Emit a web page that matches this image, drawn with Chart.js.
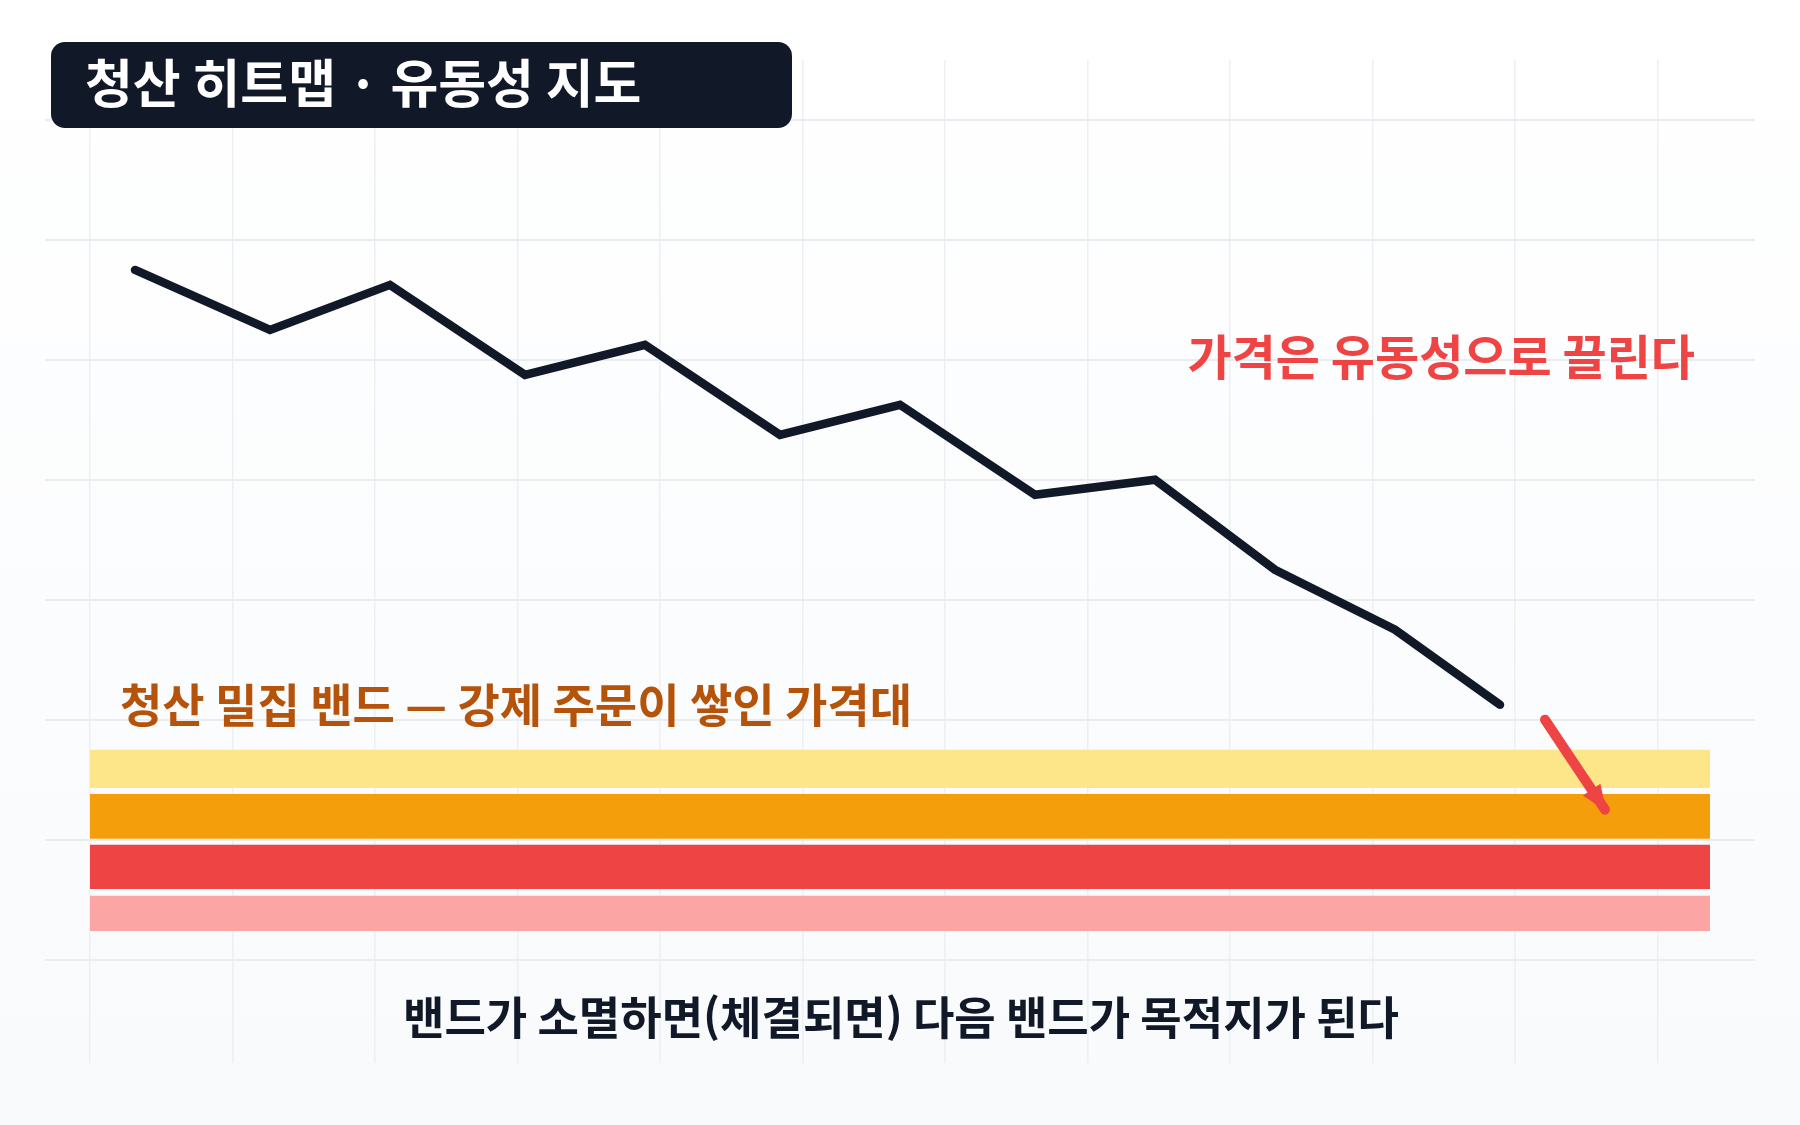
<!DOCTYPE html>
<html lang="ko">
<head>
<meta charset="UTF-8">
<title>청산 히트맵 · 유동성 지도</title>
<script src="https://cdn.jsdelivr.net/npm/chart.js@4.4.1/dist/chart.umd.min.js"></script>
<style>
    html, body { margin:0; padding:0; background:#fff; }
    #board { width:1800px; height:1125px; position:relative; }
</style>
</head>
<body>
<div id="board"><canvas id="chart1"></canvas></div>
<script>
    // 가격 경로 (x: 시간 단위, y: 가격 단위)
    const priceX = [9, 18, 26, 35, 43, 52, 60, 69, 77, 85, 93, 100];
    const priceY = [46, 42, 45, 39, 41, 35, 37, 31, 32, 26, 22, 17];

    // 청산 밴드 (위 -> 아래)
    const bandTop    = [14.0, 11.05, 7.65, 4.25];
    const bandBottom = [11.45, 8.05, 4.7, 1.9];
    const bandColors = ['#fde68a', '#f59e0b', '#ef4444', '#fca5a5'];
    const bandFrom = 6, bandTo = 114;

    // 화살표 (가격 -> 밴드)
    const arrowX = [103, 107];
    const arrowY = [16, 10];

    // 눈금 (격자선 위치)
    const xGrid = [6, 15.5, 25, 34.5, 44, 53.5, 63, 72.5, 82, 91.5, 101, 110.5];
    const yGrid = [0, 8, 16, 24, 32, 40, 48, 56];

    const titleText = '청산 히트맵 · 유동성 지도';
    const noteRed = '가격은 유동성으로 끌린다';
    const noteBand = '청산 밀집 밴드 — 강제 주문이 쌓인 가격대';
    const noteBottom = '밴드가 소멸하면(체결되면) 다음 밴드가 목적지가 된다';

    const FONT = '"Noto Sans CJK KR", "Noto Sans", sans-serif';

    const bandSets = bandTop.map((t, i) => ({
        data: [{x: bandFrom, y: t}, {x: bandTo, y: t}],
        fill: {value: bandBottom[i]},
        backgroundColor: bandColors[i],
        borderWidth: 0,
        pointRadius: 0,
        order: 3
    }));

    const bgPlugin = {
        id: 'bg',
        beforeDraw(chart) {
            const c = chart.ctx;
            const g = c.createLinearGradient(0, 0, 0, chart.height);
            g.addColorStop(0, '#ffffff');
            g.addColorStop(1, '#f8fafc');
            c.save();
            c.fillStyle = g;
            c.fillRect(0, 0, chart.width, chart.height);
            c.restore();
        }
    };

    const arrowHead = {
        id: 'arrowHead',
        afterDatasetsDraw(chart) {
            const pts = chart.getDatasetMeta(1).data;
            const a = pts[0], b = pts[1];
            const ang = Math.atan2(b.y - a.y, b.x - a.x);
            const c = chart.ctx;
            c.save();
            c.translate(b.x, b.y);
            c.rotate(ang);
            c.fillStyle = '#ef4444';
            c.beginPath();
            c.moveTo(2, 0);
            c.lineTo(-24, -10.5);
            c.lineTo(-24, 10.5);
            c.closePath();
            c.fill();
            c.restore();
        }
    };

    const labels = {
        id: 'labels',
        afterDraw(chart) {
            const c = chart.ctx;
            c.save();
            // 제목 상자
            c.fillStyle = '#111827';
            c.beginPath();
            c.roundRect(51, 42, 741, 86, 14);
            c.fill();
            c.fillStyle = '#ffffff';
            c.font = 'bold 52px ' + FONT;
            c.textBaseline = 'middle';
            c.textAlign = 'left';
            c.fillText(titleText, 85, 83);

            c.font = 'bold 48px ' + FONT;
            c.fillStyle = '#ef4444';
            c.textAlign = 'right';
            c.fillText(noteRed, 1695, 357);

            c.font = 'bold 46px ' + FONT;
            c.fillStyle = '#b45309';
            c.textAlign = 'left';
            c.fillText(noteBand, 120, 705);

            c.font = 'bold 45px ' + FONT;
            c.fillStyle = '#111827';
            c.textAlign = 'center';
            c.fillText(noteBottom, 901, 1018);
            c.restore();
        }
    };

    const ctx = document.getElementById('chart1').getContext('2d');
    new Chart(ctx, {
        type: 'line',
        data: {
            datasets: [
                {
                    data: priceX.map((x, i) => ({x: x, y: priceY[i]})),
                    borderColor: '#111827',
                    borderWidth: 8.5,
                    borderCapStyle: 'round',
                    borderJoinStyle: 'miter',
                    pointRadius: 0,
                    tension: 0,
                    fill: false,
                    order: 1
                },
                {
                    data: arrowX.map((x, i) => ({x: x, y: arrowY[i]})),
                    borderColor: '#ef4444',
                    borderWidth: 10,
                    borderCapStyle: 'round',
                    pointRadius: 0,
                    fill: false,
                    order: 0
                },
                ...bandSets
            ]
        },
        options: {
            responsive: true,
            maintainAspectRatio: false,
            animation: false,
            layout: { padding: {left: 45, right: 45, top: 60, bottom: 62} },
            plugins: {
                legend: {display: false},
                tooltip: {enabled: false}
            },
            scales: {
                x: {
                    type: 'linear',
                    min: 3, max: 117,
                    afterBuildTicks: (s) => { s.ticks = xGrid.map(v => ({value: v})); },
                    ticks: {display: false},
                    border: {display: false},
                    grid: {color: '#eceff3', lineWidth: 1.5, drawTicks: false}
                },
                y: {
                    type: 'linear',
                    min: -6.9, max: 60,
                    afterBuildTicks: (s) => { s.ticks = yGrid.map(v => ({value: v})); },
                    ticks: {display: false},
                    border: {display: false},
                    grid: {color: '#e9ecf0', lineWidth: 2, drawTicks: false}
                }
            }
        },
        plugins: [bgPlugin, arrowHead, labels]
    });
</script>
</body>
</html>
